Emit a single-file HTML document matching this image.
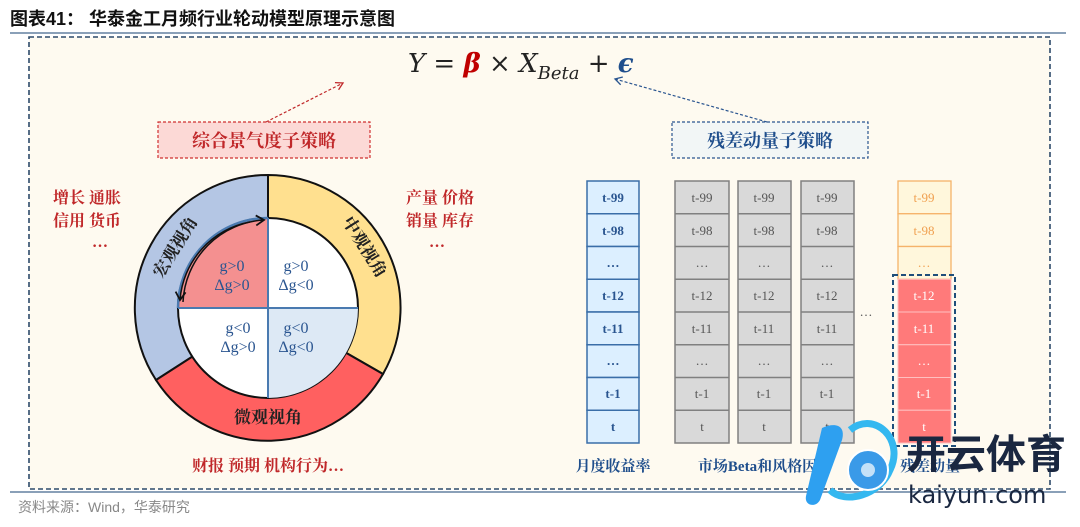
<!DOCTYPE html>
<html><head><meta charset="utf-8"><style>
html,body{margin:0;padding:0;background:#fff;}
svg{display:block;font-family:"Liberation Serif","Noto Serif CJK SC",serif;}
</style></head><body>
<svg width="1080" height="527" viewBox="0 0 1080 527" xmlns="http://www.w3.org/2000/svg">
<defs>
<marker id="ar" markerWidth="10" markerHeight="10" refX="8" refY="5" orient="auto" markerUnits="userSpaceOnUse"><path d="M1,1 L8,5 L1,9" fill="none" stroke="#c0282a" stroke-width="1.3"/></marker>
<marker id="ab" markerWidth="10" markerHeight="10" refX="8" refY="5" orient="auto" markerUnits="userSpaceOnUse"><path d="M1,1 L8,5 L1,9" fill="none" stroke="#2a5590" stroke-width="1.3"/></marker>
<marker id="ak" markerWidth="12" markerHeight="12" refX="9" refY="6" orient="auto" markerUnits="userSpaceOnUse"><path d="M1,1 L9,6 L1,11" fill="none" stroke="#111" stroke-width="1.8"/></marker>
</defs>
<rect width="1080" height="527" fill="#fff"/>
<text x="10" y="25" font-family="'Liberation Sans','Noto Sans CJK SC',sans-serif" font-weight="bold" font-size="18" fill="#111">图表41：  华泰金工月频行业轮动模型原理示意图</text>
<line x1="10" y1="33" x2="1066" y2="33" stroke="#8aa0b8" stroke-width="2"/>
<rect x="29" y="37" width="1021" height="452" fill="#fefaf0" stroke="#2d4a6a" stroke-width="1.6" stroke-dasharray="5,3"/>
<line x1="10" y1="492" x2="1066" y2="492" stroke="#8aa0b8" stroke-width="2"/>
<text x="18" y="512" font-family="'Liberation Sans','Noto Sans CJK SC',sans-serif" font-size="14" fill="#888">资料来源：Wind，华泰研究</text>

<!-- formula -->
<g font-family="'DejaVu Serif','Liberation Serif',serif" font-style="italic" font-size="26">
<text x="408" y="72" fill="#222">Y = <tspan fill="#c00000" font-weight="bold">β</tspan> <tspan font-style="normal">×</tspan> X<tspan font-size="18" dy="7">Beta</tspan><tspan dy="-7" font-style="normal"> + </tspan><tspan fill="#1f4e8c" font-weight="bold">ϵ</tspan></text>
</g>

<!-- boxes -->
<rect x="158" y="122" width="212" height="36" fill="#fcd9d6" stroke="#d03030" stroke-width="1.2" stroke-dasharray="3,2"/>
<text x="264" y="147" text-anchor="middle" font-size="18" fill="#c0282a" font-weight="bold">综合景气度子策略</text>
<rect x="672" y="122" width="196" height="36" fill="#f2f6f6" stroke="#2a5590" stroke-width="1.2" stroke-dasharray="3,2"/>
<text x="770" y="147" text-anchor="middle" font-size="18" fill="#1f4e8c" font-weight="bold">残差动量子策略</text>
<line x1="266" y1="122" x2="343" y2="83" stroke="#c0282a" stroke-width="1.2" stroke-dasharray="3,2" marker-end="url(#ar)"/>
<line x1="767" y1="122" x2="615" y2="79" stroke="#2a5590" stroke-width="1.2" stroke-dasharray="3,2" marker-end="url(#ab)"/>

<!-- side texts -->
<g font-size="16" fill="#c0282a" font-weight="bold">
<text x="87" y="203" text-anchor="middle">增长 通胀</text>
<text x="87" y="226" text-anchor="middle">信用 货币</text>
<text x="100" y="247" text-anchor="middle">…</text>
<text x="440" y="203" text-anchor="middle">产量 价格</text>
<text x="440" y="226" text-anchor="middle">销量 库存</text>
<text x="437" y="247" text-anchor="middle">…</text>
<text x="268" y="471" text-anchor="middle">财报 预期 机构行为…</text>
</g>

<!-- ring -->
<g stroke="#111" stroke-width="2">
<path d="M268,308 L268,175 A133,133 0 0 0 156,380 Z" fill="#b4c6e4"/>
<path d="M268,308 L268,175 A133,133 0 0 1 383,374 Z" fill="#ffe08f"/>
<path d="M268,308 L156,380 A133,133 0 0 0 383,374 Z" fill="#ff6060"/>
</g>
<circle cx="268" cy="308" r="90" fill="#fff" stroke="#111" stroke-width="2"/>
<path d="M268,308 L268,218 A90,90 0 0 0 178,308 Z" fill="#f49090"/>
<path d="M268,308 L358,308 A90,90 0 0 1 268,398 Z" fill="#dde9f5"/>
<line x1="178" y1="308" x2="358" y2="308" stroke="#4a7ab0" stroke-width="2"/>
<line x1="268" y1="218" x2="268" y2="398" stroke="#4a7ab0" stroke-width="2"/>
<path d="M268,218 A90,90 0 0 0 178,308" fill="none" stroke="#4a7ab0" stroke-width="2.5"/>
<path d="M183,302 A86,86 0 0 1 264,220" fill="none" stroke="#111" stroke-width="1.5" marker-end="url(#ak)"/>
<path d="M250,222 A86,86 0 0 0 180,300" fill="none" stroke="#111" stroke-width="1.5" marker-end="url(#ak)"/>
<g font-size="16" fill="#2a5590" text-anchor="middle">
<text x="232" y="271">g&gt;0</text><text x="232" y="290">Δg&gt;0</text>
<text x="296" y="271">g&gt;0</text><text x="296" y="290">Δg&lt;0</text>
<text x="238" y="333">g&lt;0</text><text x="238" y="352">Δg&gt;0</text>
<text x="296" y="333">g&lt;0</text><text x="296" y="352">Δg&lt;0</text>
</g>
<g font-size="17" fill="#222" font-weight="bold">
<text x="0" y="0" text-anchor="middle" transform="translate(180,250) rotate(-58)">宏观视角</text>
<text x="0" y="0" text-anchor="middle" transform="translate(360,250) rotate(58)">中观视角</text>
<text x="268" y="423" text-anchor="middle">微观视角</text>
</g>

<!-- columns -->
<g font-size="13" text-anchor="middle">
<!-- blue -->
<g fill="#dcefff" stroke="#3a6ea8" stroke-width="1.5">
<rect x="587" y="181" width="52" height="32.75"/><rect x="587" y="213.75" width="52" height="32.75"/><rect x="587" y="246.5" width="52" height="32.75"/><rect x="587" y="279.25" width="52" height="32.75"/><rect x="587" y="312" width="52" height="32.75"/><rect x="587" y="344.75" width="52" height="32.75"/><rect x="587" y="377.5" width="52" height="32.75"/><rect x="587" y="410.25" width="52" height="32.75"/>
</g>
<g fill="#2a5590" font-weight="bold"><text x="613" y="202">t-99</text><text x="613" y="235">t-98</text><text x="613" y="267">…</text><text x="613" y="300">t-12</text><text x="613" y="333">t-11</text><text x="613" y="365">…</text><text x="613" y="398">t-1</text><text x="613" y="431">t</text></g>
<!-- gray cols -->
<g fill="#d9d9d9" stroke="#808080" stroke-width="1.5">
<rect x="675" y="181" width="54" height="262"/><rect x="738" y="181" width="53" height="262"/><rect x="801" y="181" width="53" height="262"/>
</g>
<g stroke="#808080" stroke-width="1.5">
<path d="M675,213.75H729M675,246.5H729M675,279.25H729M675,312H729M675,344.75H729M675,377.5H729M675,410.25H729"/>
<path d="M738,213.75H791M738,246.5H791M738,279.25H791M738,312H791M738,344.75H791M738,377.5H791M738,410.25H791"/>
<path d="M801,213.75H854M801,246.5H854M801,279.25H854M801,312H854M801,344.75H854M801,377.5H854M801,410.25H854"/>
</g>
<g fill="#555">
<text x="702" y="202">t-99</text><text x="702" y="235">t-98</text><text x="702" y="267">…</text><text x="702" y="300">t-12</text><text x="702" y="333">t-11</text><text x="702" y="365">…</text><text x="702" y="398">t-1</text><text x="702" y="431">t</text>
<text x="764" y="202">t-99</text><text x="764" y="235">t-98</text><text x="764" y="267">…</text><text x="764" y="300">t-12</text><text x="764" y="333">t-11</text><text x="764" y="365">…</text><text x="764" y="398">t-1</text><text x="764" y="431">t</text>
<text x="827" y="202">t-99</text><text x="827" y="235">t-98</text><text x="827" y="267">…</text><text x="827" y="300">t-12</text><text x="827" y="333">t-11</text><text x="827" y="365">…</text><text x="827" y="398">t-1</text><text x="827" y="431">t</text>
<text x="866" y="316">…</text>
</g>
<!-- orange/red col -->
<g fill="#fff7dc" stroke="#f5b36a" stroke-width="1.3">
<rect x="898" y="181" width="53" height="32.75"/><rect x="898" y="213.75" width="53" height="32.75"/><rect x="898" y="246.5" width="53" height="32.75"/>
</g>
<g fill="#ff7a7a" stroke="#ffc0c0" stroke-width="1">
<rect x="898" y="279.25" width="53" height="32.75"/><rect x="898" y="312" width="53" height="32.75"/><rect x="898" y="344.75" width="53" height="32.75"/><rect x="898" y="377.5" width="53" height="32.75"/><rect x="898" y="410.25" width="53" height="32.75"/>
</g>
<rect x="893" y="275" width="62" height="171" fill="none" stroke="#1f4e7a" stroke-width="2" stroke-dasharray="5,3"/>
<g fill="#f0a050"><text x="924" y="202">t-99</text><text x="924" y="235">t-98</text><text x="924" y="267">…</text></g>
<g fill="#fff"><text x="924" y="300">t-12</text><text x="924" y="333">t-11</text><text x="924" y="365">…</text><text x="924" y="398">t-1</text><text x="924" y="431">t</text></g>
</g>
<g font-size="15" fill="#1f4e8c" font-weight="bold">
<text x="613" y="471" text-anchor="middle">月度收益率</text>
<text x="765" y="471" text-anchor="middle">市场Beta和风格因子</text>
<text x="930" y="471" text-anchor="middle">残差动量</text>
</g>

<!-- watermark -->
<g>
<path d="M822,428 C835,422 846,425 842,440 L820,500 C816,508 804,506 806,496 Z" fill="#2ea0f0"/>
<path d="M850,430 C875,410 905,440 890,470 C880,495 845,505 830,490" fill="none" stroke="#34b8f0" stroke-width="7"/>
<circle cx="868" cy="470" r="20" fill="#3a9ae8" stroke="#ffffff" stroke-width="2"/>
<circle cx="868" cy="470" r="7" fill="#fff" opacity="0.7"/>
<text x="906" y="468" font-family="'Noto Sans CJK SC',sans-serif" font-weight="bold" font-size="40" fill="#1a2740">开云体育</text>
<text x="908" y="503" font-family="'DejaVu Sans',sans-serif" font-size="24" fill="#1a2740">kaiyun.com</text>
</g>
</svg>
</body></html>
